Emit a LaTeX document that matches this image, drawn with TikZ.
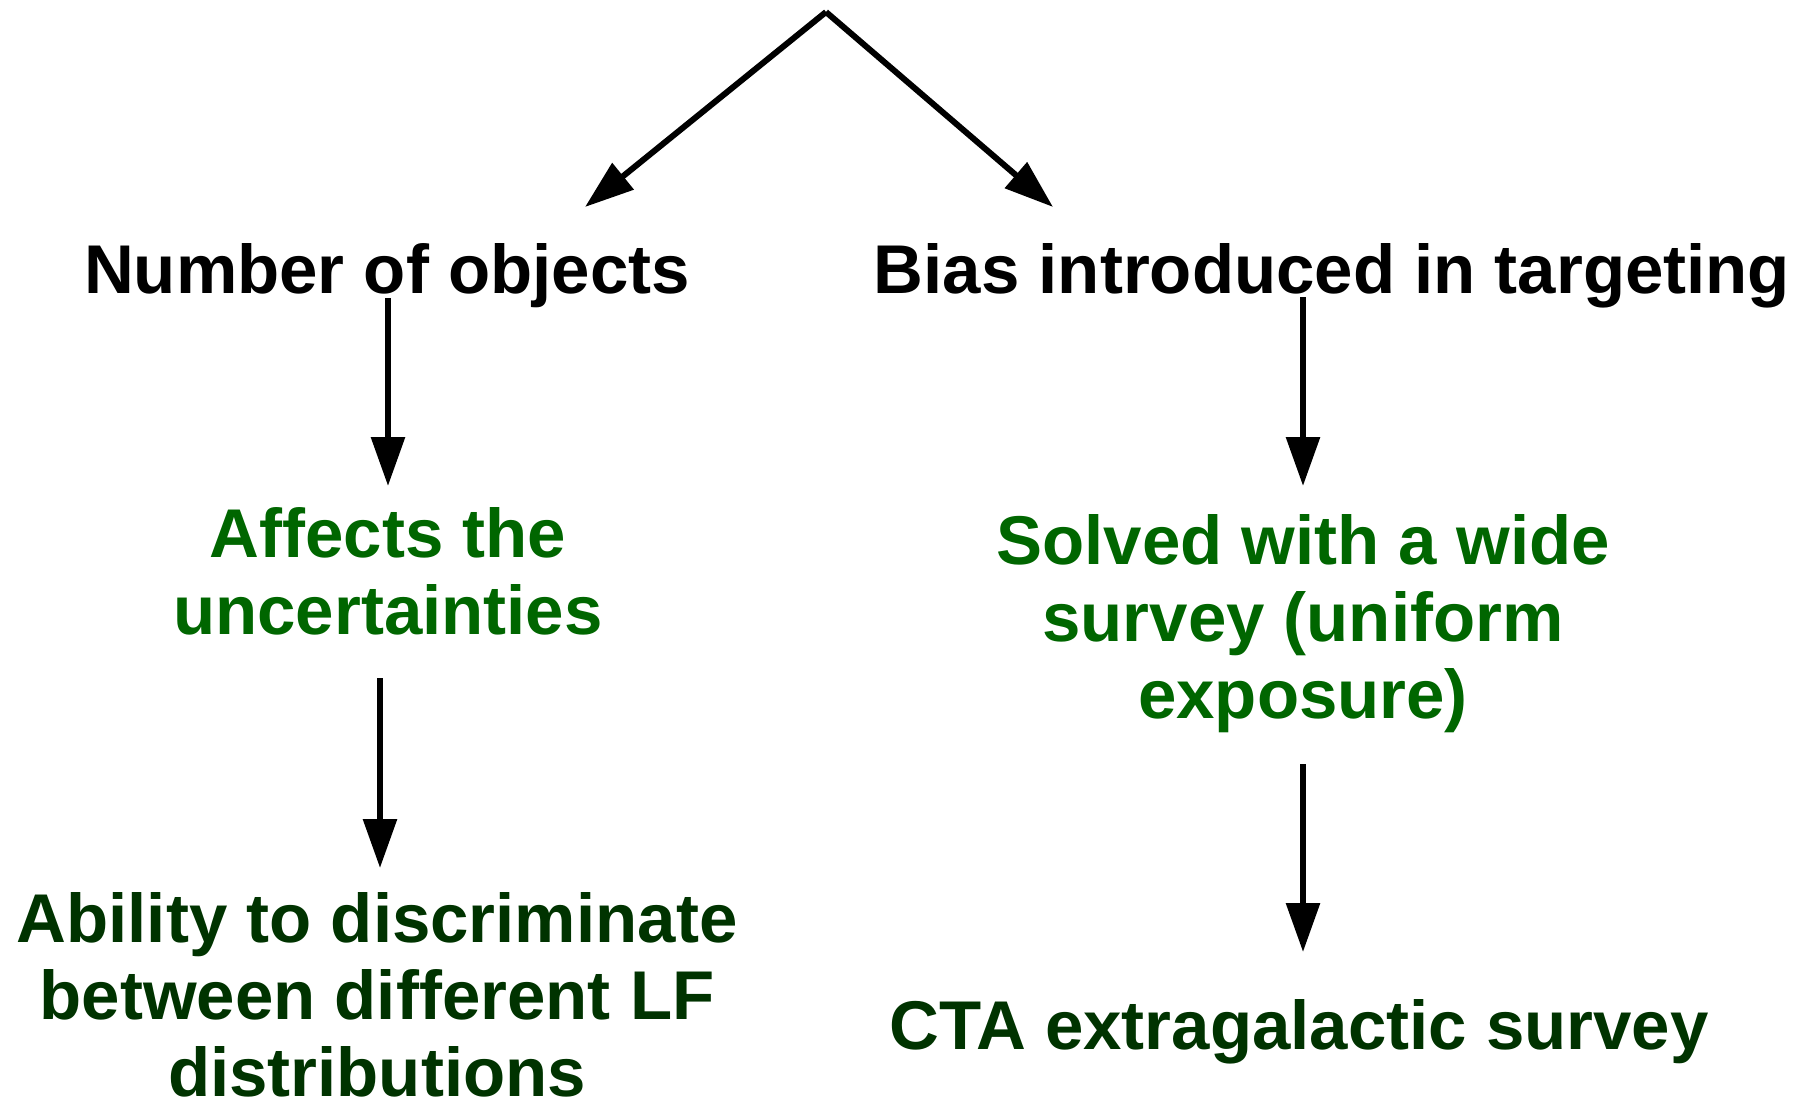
\documentclass[tikz,border=0pt]{standalone}
\usepackage{fontspec}
\setmainfont{Liberation Sans}
\usetikzlibrary{arrows.meta}
\definecolor{midgreen}{HTML}{006600}
\definecolor{darkgreen}{HTML}{003300}
\begin{document}
\begin{tikzpicture}[x=1pt,y=-1pt,
  lbl/.style={inner sep=0pt, align=center, font=\fontsize{69}{77}\selectfont\bfseries, anchor=base},
  arr/.style={line width=6pt, -{Triangle[length=49pt,width=33pt]}}]
\useasboundingbox (0,0) rectangle (1814,1107);
% texts (base anchor = baseline of the last line)
\node[lbl] (nobj) at (387,293) {Number of objects};
\node[lbl] (bias) at (1332,293) {Bias introduced in targeting};
\node[lbl, text=midgreen] (aff) at (388,634) {Affects the\\uncertainties};
\node[lbl, text=midgreen] (solv) at (1303,718) {Solved with a wide\\survey (uniform\\exposure)};
\node[lbl, text=darkgreen] (abil) at (377,1096) {Ability to discriminate\\between different LF\\distributions};
\node[lbl, text=darkgreen] (cta) at (1299,1049) {CTA extragalactic survey};
% connector ends
\coordinate (apex) at (826,12);
\coordinate (nobjin) at (585,207);
\coordinate (biasin) at (1053,207);
\coordinate (nobjout) at (388,298);
\coordinate (affin) at (388,486);
\coordinate (affout) at (380,678);
\coordinate (abilin) at (380,868);
\coordinate (biasout) at (1303,297);
\coordinate (solvin) at (1303,486);
\coordinate (solvout) at (1303,764);
\coordinate (ctain) at (1303,952);
% connectors
\draw[arr] (apex) -- (nobjin);
\draw[arr] (apex) -- (biasin);
\draw[arr] (nobjout) -- (affin);
\draw[arr] (affout) -- (abilin);
\draw[arr] (biasout) -- (solvin);
\draw[arr] (solvout) -- (ctain);
\end{tikzpicture}
\end{document}
